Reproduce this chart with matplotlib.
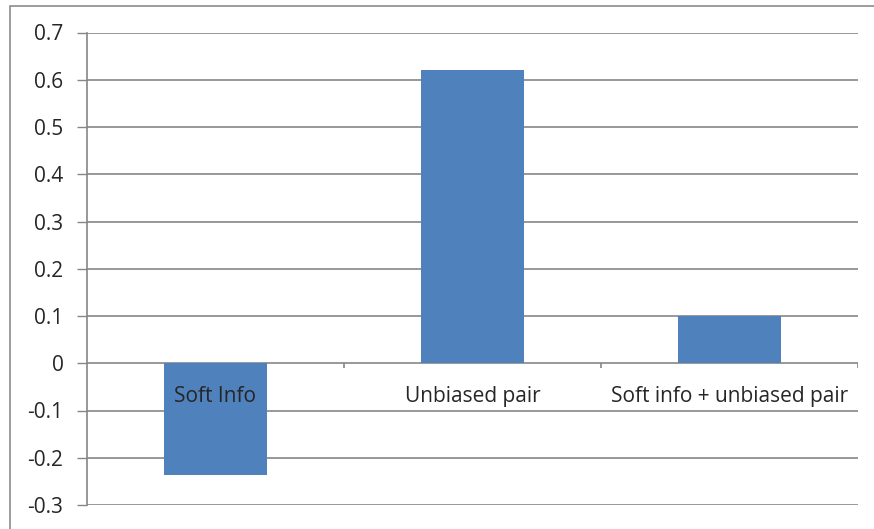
import matplotlib
matplotlib.use("Agg")
import matplotlib.pyplot as plt
from matplotlib.patches import Rectangle

categories = ["Soft Info", "Unbiased pair", "Soft info + unbiased pair"]
values = [-0.236, 0.62, 0.1]
yticks = [-0.3, -0.2, -0.1, 0, 0.1, 0.2, 0.3, 0.4, 0.5, 0.6, 0.7]
ytick_labels = ["-0.3", "-0.2", "-0.1", "0", "0.1", "0.2", "0.3", "0.4", "0.5", "0.6", "0.7"]

bar_color = "#4F81BD"
grid_color = "#868686"
text_color = "#262626"

plt.rcParams["font.family"] = ["Open Sans", "DejaVu Sans"]

W, H = 874, 529
fig = plt.figure(figsize=(W / 100, H / 100), dpi=100)

# outer chart border (right/bottom fall outside the image)
fig.patches.append(Rectangle((9.5 / W, -0.05), 1.0, 1 - 6 / H + 0.05,
                             transform=fig.transFigure, fill=False,
                             edgecolor="#8c8c8c", linewidth=1.2))

left, right, top, bottom = 87, 858, 32.5, 505
ax = fig.add_axes([left / W, 1 - bottom / H, (right - left) / W, (bottom - top) / H])

x = range(len(categories))
ax.bar(x, values, width=0.4, color=bar_color, zorder=3)

ax.set_xlim(-0.5, 2.5)
ax.set_ylim(-0.3, 0.7)
ax.set_yticks(yticks)
ax.set_yticklabels(ytick_labels, color=text_color, fontsize=15)
ax.tick_params(axis="y", length=7, width=1, color=grid_color, pad=10)
ax.set_xticks([])

for y in yticks:
    ax.axhline(y, color=grid_color, linewidth=1.2, zorder=1)

for s in ["top", "right", "bottom"]:
    ax.spines[s].set_visible(False)
ax.spines["left"].set_color(grid_color)
ax.spines["left"].set_linewidth(1.2)

# category axis on zero line with boundary ticks
ax.vlines([0.5, 1.5, 2.5], -0.011, 0, color=grid_color, linewidth=1.2, zorder=2)

for i, name in enumerate(categories):
    ax.annotate(name, (i, 0), xytext=(0, -24), textcoords="offset points",
                ha="center", va="center", fontsize=15, color=text_color, zorder=4)

fig.savefig("out.png", dpi=100)
